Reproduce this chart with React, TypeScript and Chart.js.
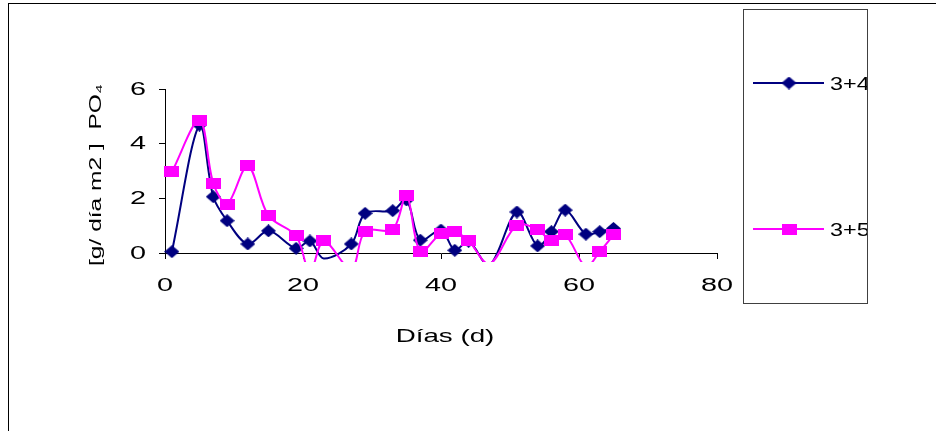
import React, { useEffect, useRef } from 'react';
import { Chart, registerables } from 'chart.js';

Chart.register(...registerables);

// ---- data ----
const days = [1, 5, 7, 9, 12, 15, 19, 21, 23, 27, 29, 33, 35, 37, 40, 42, 44, 47, 51, 54, 56, 58, 61, 63, 65];
const series34 = [0.05, 4.68, 2.06, 1.18, 0.33, 0.81, 0.17, 0.44, -0.2, 0.33, 1.45, 1.55, 1.94, 0.47, 0.84, 0.1, 0.43, -0.45, 1.5, 0.26, 0.78, 1.57, 0.69, 0.78, 0.9];
const series35 = [2.97, 4.86, 2.55, 1.79, 3.19, 1.36, 0.63, -0.7, 0.44, -0.6, 0.8, 0.86, 2.12, 0.05, 0.72, 0.78, 0.45, -0.4, 1.02, 0.86, 0.45, 0.66, -0.5, 0.05, 0.66];
const seriesNames = ['3+4', '3+5'];
const xTicks = [0, 20, 40, 60, 80];
const yTicks = [0, 2, 4, 6];
const xTitle = 'Días (d)';
const yTitle = '[g/ día m2 ]  PO₄';

const NAVY = '#000080';
const PINK = '#FF00FF';
const FONT = '"Liberation Sans", Arial, sans-serif';

function makeMarker(kind: 'diamond' | 'square', color: string): HTMLCanvasElement {
  const c = document.createElement('canvas');
  const g = c.getContext('2d')!;
  if (kind === 'diamond') {
    c.width = 15;
    c.height = 13;
    g.fillStyle = color;
    g.beginPath();
    g.moveTo(7.5, 0);
    g.lineTo(15, 6.5);
    g.lineTo(7.5, 13);
    g.lineTo(0, 6.5);
    g.closePath();
    g.fill();
  } else {
    c.width = 15;
    c.height = 11;
    g.fillStyle = color;
    g.fillRect(0, 0, 15, 11);
  }
  return c;
}

function stretchText(
  ctx: CanvasRenderingContext2D,
  text: string,
  x: number,
  y: number,
  size: number,
  sx: number,
  align: CanvasTextAlign,
  rotate = 0
) {
  ctx.save();
  ctx.translate(x, y);
  if (rotate) ctx.rotate(rotate);
  ctx.scale(sx, 1);
  ctx.font = `${size}px ${FONT}`;
  ctx.textAlign = align;
  ctx.textBaseline = 'alphabetic';
  ctx.fillStyle = '#000';
  ctx.fillText(text, 0, 0);
  ctx.restore();
}

export default function App() {
  const ref = useRef<HTMLCanvasElement | null>(null);

  useEffect(() => {
    document.body.style.margin = '0';
    const canvas = ref.current;
    if (!canvas) return;

    const diamond = makeMarker('diamond', NAVY);
    const square = makeMarker('square', PINK);
    const markers = [diamond, square];
    const colors = [NAVY, PINK];

    const decor = {
      id: 'decor',
      afterDraw(chart: any) {
        const ctx: CanvasRenderingContext2D = chart.ctx;
        const xs = chart.scales.x;
        const ys = chart.scales.y;
        ctx.save();
        // outer chart frame
        ctx.strokeStyle = '#000';
        ctx.lineWidth = 1;
        ctx.strokeRect(8.5, 3.5, 2000, 2000);
        // tick labels
        xTicks.forEach((v) => {
          stretchText(ctx, String(v), xs.getPixelForValue(v), 290.5, 18, 1.6, 'center');
        });
        yTicks.forEach((v) => {
          stretchText(ctx, String(v), 146, ys.getPixelForValue(v) + 5.7, 18, 1.6, 'right');
        });
        // axis titles
        stretchText(ctx, xTitle, (xs.left + xs.right) / 2 + 4, 342, 18.5, 1.5, 'center');
        ctx.save();
        ctx.font = `16px ${FONT}`;
        const w = ctx.measureText(yTitle).width;
        ctx.restore();
        stretchText(ctx, yTitle, 101, 175, 16, 182 / w, 'center', -Math.PI / 2);
        // legend box
        ctx.strokeStyle = '#404040';
        ctx.lineWidth = 1;
        ctx.strokeRect(743.5, 9.5, 124, 294);
        const rows = [83, 229];
        seriesNames.forEach((name, i) => {
          const y = rows[i];
          ctx.strokeStyle = colors[i];
          ctx.lineWidth = 2;
          ctx.beginPath();
          ctx.moveTo(753, y);
          ctx.lineTo(824, y);
          ctx.stroke();
          const m = markers[i];
          ctx.drawImage(m, 789 - m.width / 2, y - m.height / 2);
          ctx.save();
          ctx.beginPath();
          ctx.rect(744, 10, 123, 293);
          ctx.clip();
          stretchText(ctx, name, 830, y + 6.5, 18, 1.3, 'left');
          ctx.restore();
        });
        ctx.restore();
      },
    };

    const radiusFn = (c: any) => (c.raw && c.raw.y < 0 ? 0 : 7);

    const chart = new Chart(canvas, {
      type: 'line',
      data: {
        datasets: [
          {
            label: seriesNames[0],
            data: days.map((d, i) => ({ x: d, y: series34[i] })),
            borderColor: NAVY,
            backgroundColor: NAVY,
            borderWidth: 2,
            pointStyle: diamond,
            pointRadius: radiusFn,
            pointHoverRadius: radiusFn,
            tension: 0.33,
            order: 1,
            clip: { left: 10, top: 10, right: 10, bottom: 9 } as any,
          },
          {
            label: seriesNames[1],
            data: days.map((d, i) => ({ x: d, y: series35[i] })),
            borderColor: PINK,
            backgroundColor: PINK,
            borderWidth: 2,
            pointStyle: square,
            pointRadius: radiusFn,
            pointHoverRadius: radiusFn,
            tension: 0.33,
            order: 0,
            clip: { left: 10, top: 10, right: 10, bottom: 9 } as any,
          },
        ],
      },
      options: {
        animation: false,
        responsive: false,
        events: [],
        layout: { padding: { left: 165, top: 89, right: 219, bottom: 178 } },
        elements: { line: { capBezierPoints: false } },
        plugins: { legend: { display: false }, tooltip: { enabled: false }, title: { display: false } },
        scales: {
          x: {
            type: 'linear',
            min: 0,
            max: 80,
            afterBuildTicks: (s: any) => {
              s.ticks = xTicks.map((v) => ({ value: v }));
            },
            ticks: { display: false },
            grid: { drawOnChartArea: false, drawTicks: true, tickLength: 6, color: '#000', lineWidth: 1 },
            border: { display: true, color: '#000', width: 1 },
            afterFit: (s: any) => {
              s.height = 0;
            },
          },
          y: {
            type: 'linear',
            min: 0,
            max: 6,
            afterBuildTicks: (s: any) => {
              s.ticks = yTicks.map((v) => ({ value: v }));
            },
            ticks: { display: false },
            grid: { drawOnChartArea: false, drawTicks: true, tickLength: 6, color: '#000', lineWidth: 1 },
            border: { display: true, color: '#000', width: 1 },
            afterFit: (s: any) => {
              s.width = 0;
            },
          },
        },
      } as any,
      plugins: [decor],
    });

    return () => chart.destroy();
  }, []);

  return (
    <div style={{ width: 936, height: 431, background: '#fff' }}>
      <canvas ref={ref} width={936} height={431} style={{ display: 'block', width: 936, height: 431 }} />
    </div>
  );
}
